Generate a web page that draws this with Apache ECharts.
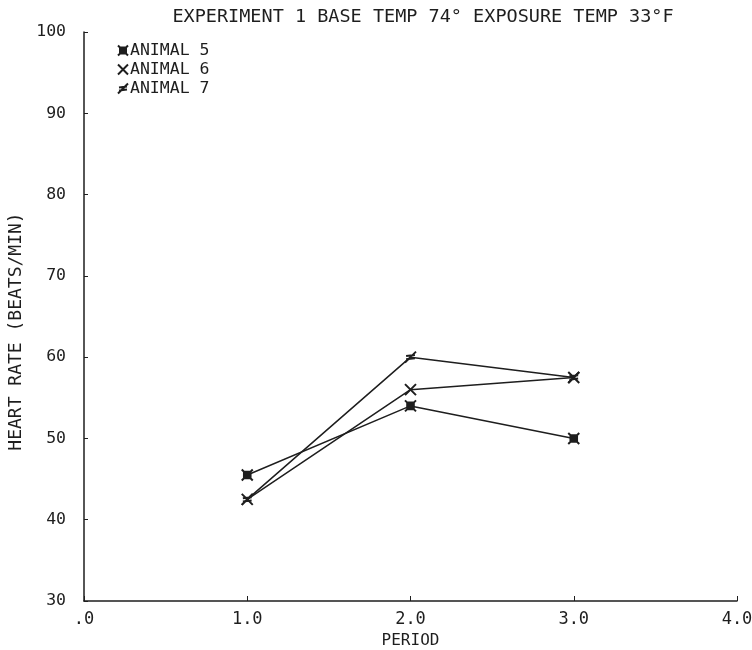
<!DOCTYPE html>
<html>
<head>
<meta charset="utf-8">
<script src="https://cdn.jsdelivr.net/npm/echarts@6/dist/echarts.min.js"></script>
<style>html,body{margin:0;padding:0;background:#fff}#c{width:752px;height:650px}</style>
</head>
<body>
<div id="c"></div>
<script>
const titleText = 'EXPERIMENT 1 BASE TEMP 74\u00B0 EXPOSURE TEMP 33\u00B0F';
const xAxisName = 'PERIOD';
const yAxisName = 'HEART RATE (BEATS/MIN)';
const periods = [1, 2, 3];
const seriesNames = ['ANIMAL 5', 'ANIMAL 6', 'ANIMAL 7'];
const animal5 = [45.5, 54, 50];
const animal6 = [42.5, 56, 57.5];
const animal7 = [42.5, 60, 57.5];
const xTickLabels = {0: '.0', 1: '1.0', 2: '2.0', 3: '3.0', 4: '4.0'};

const symbols = [
  'path://M0,0 L10,10 M10,0 L0,10 M2,2 L8,2 L8,8 L2,8 Z',
  'path://M0,0 L10,10 M10,0 L0,10',
  'path://M0,10 L10,0 M1,4 L9,3 M1,7 L9,6'
];
const ink = '#1e1e1e';
const font = 'DejaVu Sans Mono';

function pairs(vals) { return periods.map((p, i) => [p, vals[i]]); }
const allVals = [animal5, animal6, animal7];

const chart = echarts.init(document.getElementById('c'));
chart.setOption({
  backgroundColor: '#ffffff',
  animation: false,
  textStyle: { fontFamily: font, color: ink },
  title: {
    text: titleText,
    left: 418, textAlign: 'center', top: 3,
    textStyle: { fontFamily: font, fontSize: 18.5, fontWeight: 'normal', color: ink }
  },
  legend: {
    orient: 'vertical', left: 112, top: 37, itemGap: 2,
    itemWidth: 10, itemHeight: 10,
    textStyle: { fontFamily: font, fontSize: 16.5, color: ink, padding: [0, 0, 0, -3] },
    data: seriesNames.map((n, i) => ({ name: n, icon: symbols[i], itemStyle: { color: ink, borderColor: ink, borderWidth: 2 } }))
  },
  grid: { left: 84, right: 15, top: 32, bottom: 49, outerBoundsMode: 'none', containLabel: false },
  xAxis: {
    type: 'value', min: 0, max: 4, interval: 1,
    name: xAxisName, nameLocation: 'middle', nameGap: 31,
    nameTextStyle: { fontFamily: font, fontSize: 16, color: ink },
    axisLine: { lineStyle: { color: ink, width: 1.5 } },
    axisTick: { inside: true, length: 5, lineStyle: { color: ink } },
    axisLabel: { fontFamily: font, fontSize: 17, color: ink, margin: 10, formatter: v => xTickLabels[v] },
    splitLine: { show: false }
  },
  yAxis: {
    type: 'value', min: 30, max: 100, interval: 10,
    name: yAxisName, nameLocation: 'middle', nameGap: 56, nameRotate: 90,
    nameTextStyle: { fontFamily: font, fontSize: 18, color: ink, padding: [0, 30, 0, 0] },
    axisLine: { show: true, lineStyle: { color: ink, width: 1.5 } },
    axisTick: { show: true, inside: true, length: 4, lineStyle: { color: ink } },
    axisLabel: { fontFamily: font, fontSize: 16.5, color: ink, margin: 18 },
    splitLine: { show: false }
  },
  series: seriesNames.map((n, i) => ({
    name: n, type: 'line', data: pairs(allVals[i]),
    symbol: symbols[i], symbolSize: 11, showSymbol: true,
    lineStyle: { color: ink, width: 1.5 },
    itemStyle: { color: ink, borderColor: ink, borderWidth: 2 }
  }))
});
</script>
</body>
</html>
